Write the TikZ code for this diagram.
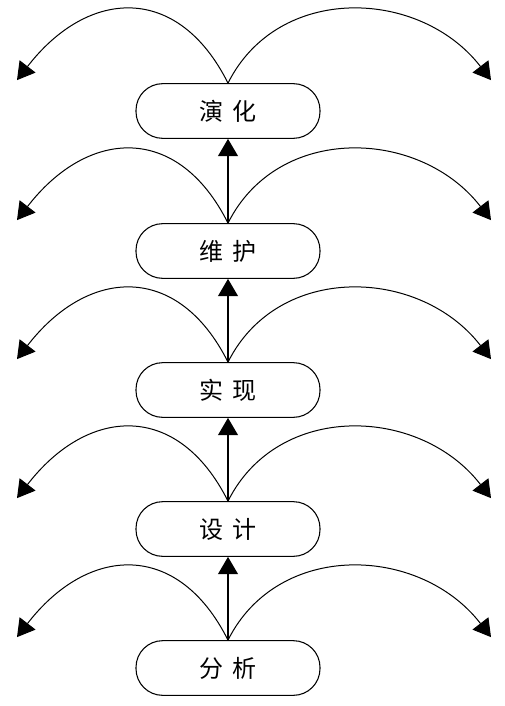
\documentclass[tikz,border=0pt]{standalone}
\usepackage{fontspec}
\newfontfamily\cjk{Noto Sans CJK SC}
\usetikzlibrary{arrows.meta}
\begin{document}
\begin{tikzpicture}[x=0.75pt,y=-0.75pt,
  stage/.style={draw,line width=0.8pt,rounded corners=20pt,minimum width=138pt,minimum height=41pt,inner sep=0pt,font=\cjk\fontsize{18}{18}\selectfont},
  tri/.style={-{Triangle[length=13pt,width=15pt]}},
  flow/.style={tri,line width=0.9pt},
  loop/.style={tri,line width=0.75pt}]
\useasboundingbox (0,0) rectangle (504,706);
\node[stage] (n1) at (228,111) {演\hspace{0.35em}化};
\node[stage] (n2) at (228,251) {维\hspace{0.35em}护};
\node[stage] (n3) at (228,390) {实\hspace{0.35em}现};
\node[stage] (n4) at (228,529) {设\hspace{0.35em}计};
\node[stage] (n5) at (228,668) {分\hspace{0.35em}析};
\draw[flow] (n2.north) -- (n1.south);
\draw[flow] (n3.north) -- (n2.south);
\draw[flow] (n4.north) -- (n3.south);
\draw[flow] (n5.north) -- (n4.south);
\foreach \n in {1,2,3,4,5}{
  \path (n\n.north) ++(-211,-3) coordinate (L\n);
  \path (n\n.north) ++(263,-3) coordinate (R\n);
  \path (n\n.north) ++(-50,-100) coordinate (A\n);
  \path (n\n.north) ++(-140,-95) coordinate (B\n);
  \path (n\n.north) ++(50,-100) coordinate (C\n);
  \path (n\n.north) ++(192,-95) coordinate (D\n);
  \draw[loop] (n\n.north) .. controls (A\n) and (B\n) .. (L\n);
  \draw[loop] (n\n.north) .. controls (C\n) and (D\n) .. (R\n);
}
\end{tikzpicture}
\end{document}
